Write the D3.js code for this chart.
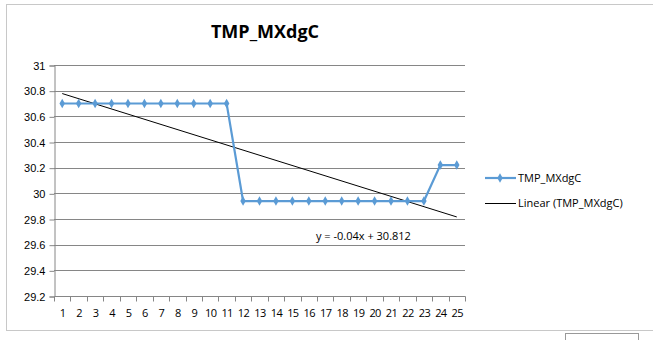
<!DOCTYPE html>
<html>
<head>
<meta charset="utf-8">
<script src="https://cdn.jsdelivr.net/npm/d3@7"></script>
<style>
  body { margin: 0; background: #fff; }
  svg { display: block; font-family: "Open Sans", "Liberation Sans", sans-serif; }
</style>
</head>
<body>
<div id="chart"></div>
<script>
// TMP_MXdgC by step, with a linear trend line
const steps = d3.range(1, 26);
const tmpValues = [30.7, 30.7, 30.7, 30.7, 30.7, 30.7, 30.7, 30.7, 30.7, 30.7, 30.7,
  29.94, 29.94, 29.94, 29.94, 29.94, 29.94, 29.94, 29.94, 29.94, 29.94, 29.94, 29.94,
  30.22, 30.22];
const yTicks = [29.2, 29.4, 29.6, 29.8, 30, 30.2, 30.4, 30.6, 30.8, 31];
const seriesName = "TMP_MXdgC";
const trendName = "Linear (TMP_MXdgC)";
const trendLabel = "y = -0.04x + 30.812";

const width = 653, height = 340;
const margin = {top: 65, right: 188, bottom: 44, left: 54};

const svg = d3.select("#chart").append("svg")
  .attr("width", width)
  .attr("height", height);

// chart frame
svg.append("rect")
  .attr("x", 6.5).attr("y", 4.5)
  .attr("width", 660).attr("height", 326)
  .attr("fill", "none").attr("stroke", "#c8c8c8");

// little sheet tab cut off at the bottom
svg.append("rect")
  .attr("x", 565.5).attr("y", 333.5)
  .attr("width", 73).attr("height", 20)
  .attr("fill", "none").attr("stroke", "#999");

const x = d3.scaleBand()
  .domain(steps)
  .range([margin.left, width - margin.right]);

const y = d3.scaleLinear()
  .domain([29.2, 31])
  .range([height - margin.bottom, margin.top]);

const cx = d => x(d) + x.bandwidth() / 2;

// gridlines
svg.append("g")
  .selectAll("line")
  .data(yTicks.slice(1))
  .join("line")
  .attr("x1", margin.left).attr("x2", width - margin.right)
  .attr("y1", d => Math.round(y(d)) + 0.5).attr("y2", d => Math.round(y(d)) + 0.5)
  .attr("stroke", "#868686");

// y axis
const yAxis = svg.append("g")
  .attr("transform", `translate(${margin.left + 0.5},0.5)`)
  .call(d3.axisLeft(y).tickValues(yTicks).tickSize(5).tickPadding(4).tickFormat(d3.format("")));
yAxis.select(".domain").attr("stroke", "#868686");
yAxis.selectAll(".tick line").attr("stroke", "#868686");
yAxis.selectAll("text").attr("font-size", 11).attr("fill", "#000");

// x axis, ticks between categories
const xAxis = svg.append("g")
  .attr("transform", `translate(0.5,${height - margin.bottom + 0.5})`);
xAxis.append("line")
  .attr("x1", margin.left).attr("x2", width - margin.right)
  .attr("stroke", "#868686");
xAxis.selectAll(".tk")
  .data(steps.concat([26]))
  .join("line")
  .attr("class", "tk")
  .attr("x1", d => Math.round(d <= 25 ? x(d) : x(25) + x.bandwidth()))
  .attr("x2", d => Math.round(d <= 25 ? x(d) : x(25) + x.bandwidth()))
  .attr("y1", 0).attr("y2", 5)
  .attr("stroke", "#868686");
xAxis.selectAll("text")
  .data(steps)
  .join("text")
  .attr("x", d => cx(d))
  .attr("y", 20)
  .attr("text-anchor", "middle")
  .attr("font-size", 11)
  .attr("letter-spacing", -0.6)
  .text(d => d);

// trend line from least squares
const n = steps.length;
const mx = d3.mean(steps), my = d3.mean(tmpValues);
const slope = d3.sum(steps, (s, i) => (s - mx) * (tmpValues[i] - my)) / d3.sum(steps, s => (s - mx) ** 2);
const intercept = my - slope * mx;

svg.append("line")
  .attr("x1", cx(steps[0])).attr("y1", y(intercept + slope * steps[0]))
  .attr("x2", cx(steps[n - 1])).attr("y2", y(intercept + slope * steps[n - 1]))
  .attr("stroke", "#000").attr("stroke-width", 1);

// data series
const blue = "#5b9bd5";
svg.append("path")
  .datum(tmpValues)
  .attr("fill", "none")
  .attr("stroke", blue)
  .attr("stroke-width", 2.2)
  .attr("d", d3.line().x((d, i) => cx(steps[i])).y(d => y(d)));

svg.append("g")
  .selectAll("path")
  .data(tmpValues)
  .join("path")
  .attr("transform", (d, i) => `translate(${cx(steps[i])},${y(d)})`)
  .attr("d", d3.symbol(d3.symbolDiamond, 26))
  .attr("fill", blue);

svg.append("text")
  .attr("x", 316).attr("y", 240)
  .attr("font-size", 11)
  .text(trendLabel);

// title
svg.append("text")
  .attr("x", 265).attr("y", 38)
  .attr("text-anchor", "middle")
  .attr("font-size", 18)
  .attr("font-weight", "bold")
  .text(seriesName);

// legend
const legend = svg.append("g").attr("font-size", 11);
legend.append("line")
  .attr("x1", 485).attr("x2", 516).attr("y1", 178).attr("y2", 178)
  .attr("stroke", blue).attr("stroke-width", 2.2);
legend.append("path")
  .attr("transform", "translate(500,178)")
  .attr("d", d3.symbol(d3.symbolDiamond, 26))
  .attr("fill", blue);
legend.append("text").attr("x", 518).attr("y", 182).text(seriesName);
legend.append("line")
  .attr("x1", 485).attr("x2", 516).attr("y1", 203.5).attr("y2", 203.5)
  .attr("stroke", "#000");
legend.append("text").attr("x", 518).attr("y", 207).text(trendName);
</script>
</body>
</html>
